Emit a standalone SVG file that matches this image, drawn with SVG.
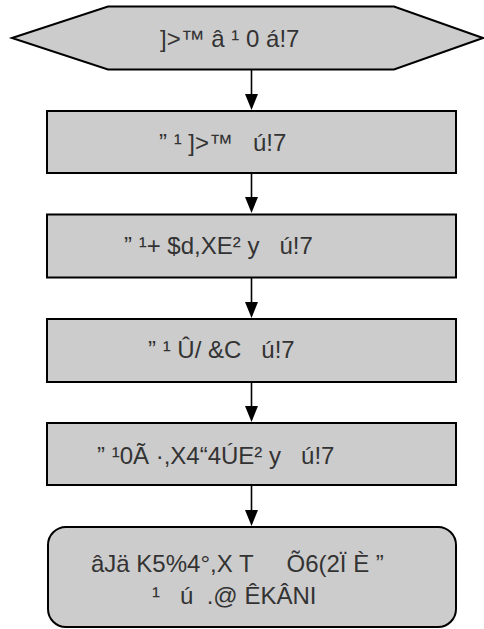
<svg xmlns="http://www.w3.org/2000/svg" width="484" height="629" viewBox="0 0 484 629">
<style>
.shape{fill:#cccccc;stroke:#000000;stroke-width:2}
.t{font-family:"Liberation Sans",Arial,sans-serif;font-size:24px;fill:#333333;white-space:pre}
.edge{stroke:#000000;stroke-width:1.6;fill:none}
.head{fill:#000000}
</style>
<rect width="484" height="629" fill="#ffffff"/>
<g id="connectors">
<line class="edge" x1="251.5" y1="69.5" x2="251.5" y2="100"/>
<path class="head" d="M245,94 L258,94 L251.5,110 Z"/>
<line class="edge" x1="251.5" y1="173" x2="251.5" y2="203"/>
<path class="head" d="M245,197 L258,197 L251.5,213 Z"/>
<line class="edge" x1="251.5" y1="277" x2="251.5" y2="308"/>
<path class="head" d="M245,302 L258,302 L251.5,318 Z"/>
<line class="edge" x1="251.5" y1="382" x2="251.5" y2="412"/>
<path class="head" d="M245,406 L258,406 L251.5,422 Z"/>
<line class="edge" x1="251.5" y1="485" x2="251.5" y2="516"/>
<path class="head" d="M245,510 L258,510 L251.5,526 Z"/>
</g>
<g id="start">
<polygon class="shape" points="12,38 108,6.5 394,6.5 483,38 394,69.5 108,69.5"/>
<text class="t" x="160" y="47" xml:space="preserve">]&gt;™ â ¹ 0 á!7</text>
</g>
<g id="step1">
<rect class="shape" x="47" y="111" width="409" height="62"/>
<text class="t" x="159" y="151" xml:space="preserve">” ¹ ]&gt;™   ú!7</text>
</g>
<g id="step2">
<rect class="shape" x="47" y="214.5" width="409" height="63"/>
<text class="t" x="124" y="254" xml:space="preserve">” ¹+ $d,XE² y   ú!7</text>
</g>
<g id="step3">
<rect class="shape" x="47" y="319" width="409" height="63"/>
<text class="t" x="148" y="358" xml:space="preserve">” ¹ Û/ &amp;C   ú!7</text>
</g>
<g id="step4">
<rect class="shape" x="47" y="423" width="409" height="62"/>
<text class="t" x="97" y="464" xml:space="preserve">” ¹0Ã ·,X4“4ÚE² y   ú!7</text>
</g>
<g id="end">
<rect class="shape" x="48" y="527" width="408" height="100" rx="18" ry="18"/>
<text class="t" x="91" y="572" xml:space="preserve">âJä K5%4°,X T     Õ6(2Ï È ”</text>
<text class="t" x="152" y="604" xml:space="preserve">¹   ú  .@ ÊKÂNI</text>
</g>
</svg>
